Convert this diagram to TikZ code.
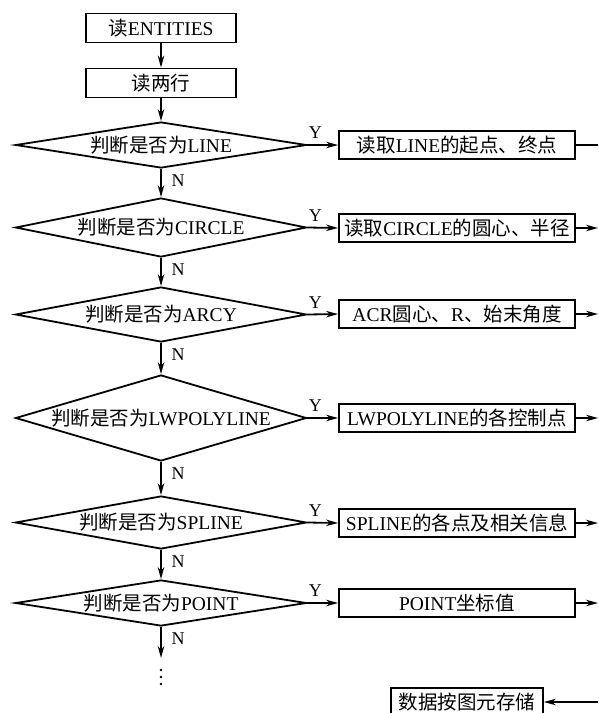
\documentclass[tikz,border=0pt]{standalone}
\usepackage{fontspec}
\setmainfont{Liberation Serif}
\newfontfamily\cjkfont{Noto Sans CJK SC}
\newcommand{\zh}[1]{{\cjkfont #1}}
\usetikzlibrary{shapes.geometric,arrows.meta,positioning}
\tikzset{
  box/.style={draw, rectangle, inner sep=0pt, minimum height=28pt, font=\fontsize{19.5}{21}\selectfont},
  topbox/.style={box, minimum width=150pt, minimum height=29pt},
  rbox/.style={box, minimum width=236pt},
  dec/.style={draw, diamond, inner sep=0pt, minimum width=291pt, font=\fontsize{19.5}{21}\selectfont},
  lab/.style={inner sep=0pt, font=\fontsize{18}{19}\selectfont},
  arr/.style={-{Stealth[length=12pt,width=6.5pt]}},
}
\newcommand{\dtext}[1]{\makebox[0pt]{#1}}
\begin{document}
\begin{tikzpicture}[x=1pt,y=-1pt,line width=1.8pt]
\clip (0,0) rectangle (598,713);
% top boxes
\node[topbox] (b1) at (161,28) {\zh{读}ENTITIES};
\node[topbox] (b2) at (161,83) {\zh{读两行}};
% decisions
\node[dec, minimum height=46pt] (d1) at (161,145) {\dtext{\zh{判断是否为}LINE}};
\node[dec, minimum height=59pt] (d2) at (161,227.5) {\dtext{\zh{判断是否为}CIRCLE}};
\node[dec, minimum height=55pt] (d3) at (161,314.5) {\dtext{\zh{判断是否为}ARCY}};
\node[dec, minimum height=86pt] (d4) at (161,418) {\dtext{\zh{判断是否为}LWPOLYLINE}};
\node[dec, minimum height=53pt] (d5) at (161,522.5) {\dtext{\zh{判断是否为}SPLINE}};
\node[dec, minimum height=46pt] (d6) at (161,603) {\dtext{\zh{判断是否为}POINT}};
% right boxes
\node[rbox] (r1) at (457,145) {\zh{读取}LINE\zh{的起点、终点}};
\node[rbox] (r2) at (457,228) {\zh{读取}CIRCLE\zh{的圆心、半径}};
\node[rbox] (r3) at (457,314) {ACR\zh{圆心、}R\zh{、始末角度}};
\node[rbox] (r4) at (457,418) {LWPOLYLINE\zh{的各控制点}};
\node[rbox] (r5) at (457,523) {SPLINE\zh{的各点及相关信息}};
\node[rbox] (r6) at (457,603) {POINT\zh{坐标值}};
\node[box, minimum width=152pt, minimum height=28pt] (fin) at (467,702) {\zh{数据按图元存储}};
% right edge coordinates
\coordinate (e1) at (598,145);
\coordinate (e2) at (598,228);
\coordinate (e3) at (598,314);
\coordinate (e4) at (598,418);
\coordinate (e5) at (598,523);
\coordinate (e6) at (598,603);
\coordinate (ein) at (598,702);
\coordinate (dn) at (161,658);
% dots
\foreach \yy in {670,677,684}{\fill (161,\yy) circle (1.3pt);}
% vertical flow
\draw[arr] (b1) -- (b2);
\draw[arr] (b2) -- (d1.north);
\draw[arr] (d1.south) -- (d2.north);
\draw[arr] (d2.south) -- (d3.north);
\draw[arr] (d3.south) -- (d4.north);
\draw[arr] (d4.south) -- (d5.north);
\draw[arr] (d5.south) -- (d6.north);
\draw[arr] (d6.south) -- (dn);
% Y branches
\foreach \i in {1,...,6}{
  \draw[arr] (d\i.east) -- (r\i.west);
  \node[lab] (y\i) at ([xshift=8pt,yshift=12pt]d\i.east) {Y};
  \node[lab] (n\i) at ([xshift=17pt,yshift=-12pt]d\i.south) {N};
}
% outputs to right edge
\draw (r1.east) -- (e1);
\foreach \i in {2,...,6}{
  \draw[arr] (r\i.east) -- (e\i);
}
\draw[arr] (ein) -- (fin.east);
\end{tikzpicture}
\end{document}
